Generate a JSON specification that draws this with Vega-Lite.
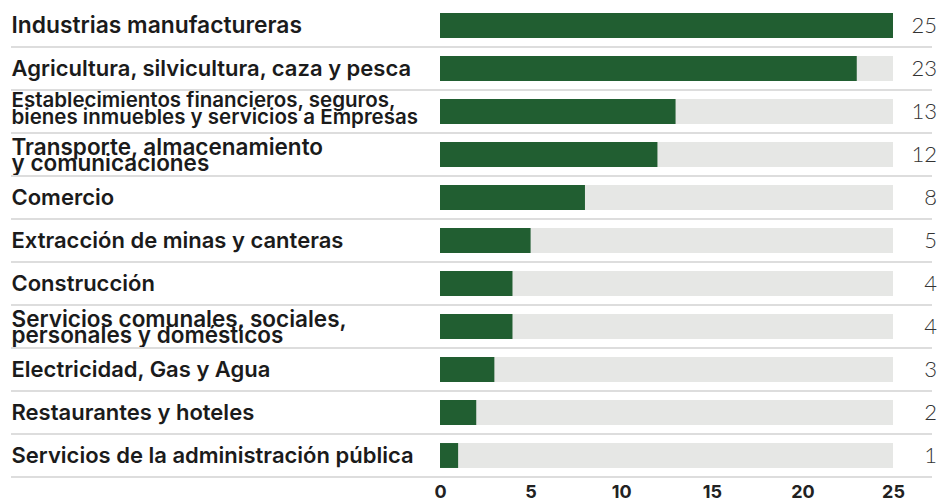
{
  "$schema": "https://vega.github.io/schema/vega-lite/v6.json",
  "width": 453,
  "height": 473,
  "autosize": {"type": "none"},
  "padding": {"left": 440, "top": 4, "right": 48, "bottom": 24},
  "background": "#ffffff",
  "config": {"view": {"stroke": null}, "font": "Inter"},
  "data": {
    "values": [
      {"sector": "Industrias manufactureras", "value": 25},
      {"sector": "Agricultura, silvicultura, caza y pesca", "value": 23},
      {"sector": "Establecimientos financieros, seguros,|bienes inmuebles y servicios a Empresas", "value": 13},
      {"sector": "Transporte, almacenamiento|y comunicaciones", "value": 12},
      {"sector": "Comercio", "value": 8},
      {"sector": "Extracción de minas y canteras", "value": 5},
      {"sector": "Construcción", "value": 4},
      {"sector": "Servicios comunales, sociales,|personales y domésticos", "value": 4},
      {"sector": "Electricidad, Gas y Agua", "value": 3},
      {"sector": "Restaurantes y hoteles", "value": 2},
      {"sector": "Servicios de la administración pública", "value": 1}
    ]
  },
  "encoding": {
    "y": {
      "field": "sector",
      "type": "nominal",
      "sort": null,
      "scale": {"paddingInner": 0, "paddingOuter": 0},
      "axis": {
        "title": null,
        "domain": false,
        "ticks": false,
        "grid": false,
        "labelAlign": "left",
        "labelBaseline": "middle",
        "labelPadding": 429,
        "labelLimit": 0,
        "labelOverlap": false,
        "labelFont": "Inter",
        "labelFontSize": {
          "condition": [
            {"test": "indexof(datum.value, 'Establecimientos') == 0", "value": 20.5},
            {"test": "indexof(datum.value, '|') >= 0", "value": 22.5},
            {"test": "datum.value == 'Industrias manufactureras'", "value": 22.8}
          ],
          "value": 22
        },
        "labelFontWeight": 600,
        "labelColor": "#1b1b1b",
        "labelLineHeight": 16.5,
        "labelOffset": {
          "condition": [
            {"test": "indexof(datum.value, 'Establecimientos') == 0", "value": -10.5},
            {"test": "indexof(datum.value, '|') >= 0", "value": -7}
          ],
          "value": 0
        },
        "labelExpr": "split(datum.value, '|')"
      }
    }
  },
  "layer": [
    {
      "mark": {"type": "rule", "color": "#dddddd", "strokeWidth": 2},
      "encoding": {
        "y": {"field": "sector", "type": "nominal", "sort": null, "bandPosition": 1},
        "x": {"value": -429},
        "x2": {"value": 492}
      }
    },
    {
      "mark": {"type": "bar", "color": "#e6e7e5", "height": {"band": 0.58}},
      "encoding": {
        "x": {
          "datum": 25,
          "type": "quantitative",
          "scale": {"domain": [0, 25], "nice": false},
          "axis": {
            "title": null,
            "domain": false,
            "ticks": false,
            "grid": false,
            "labelFlush": false,
            "values": [0, 5, 10, 15, 20, 25],
            "labelFont": "Inter",
            "labelFontSize": 18,
            "labelFontWeight": 700,
            "labelColor": "#222222",
            "labelPadding": 6
          }
        }
      }
    },
    {
      "mark": {"type": "bar", "color": "#215e31", "height": {"band": 0.58}},
      "encoding": {
        "x": {"field": "value", "type": "quantitative"}
      }
    },
    {
      "mark": {"type": "text", "align": "right", "baseline": "middle", "dx": 44, "font": "Lato", "fontSize": 22, "fontWeight": 300, "color": "#333333"},
      "encoding": {
        "x": {"datum": 25, "type": "quantitative"},
        "text": {"field": "value", "type": "quantitative"}
      }
    }
  ]
}
